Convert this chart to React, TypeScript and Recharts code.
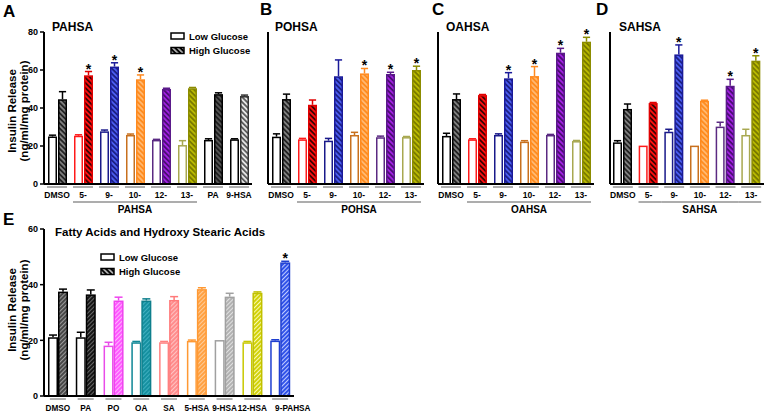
import React from 'react';
import { BarChart, Bar, XAxis, YAxis } from 'recharts';

const FONT = '"Liberation Sans", Arial, Helvetica, sans-serif';

// A - PAHSA
const catsA = ['DMSO', '5-', '9-', '10-', '12-', '13-', 'PA', '9-HSA'];
const lowA = [25, 25.4, 27.7, 25.8, 23.2, 20.5, 23.2, 23.5];
const lowErrA = [0.7, 0.5, 0.7, 0.5, 0.3, 2.3, 0.6, 0.3];
const highA = [44.6, 57.2, 61.8, 55.1, 50, 50.4, 47.3, 46.3];
const highErrA = [4, 2, 2, 2.3, 0.4, 0.4, 0.7, 0.5];
const starA = ['5-', '9-', '10-'];

// B - POHSA
const catsB = ['DMSO', '5-', '9-', '10-', '12-', '13-'];
const lowB = [24.9, 23.5, 22.8, 25.8, 24.6, 24.7];
const lowErrB = [1.5, 0.5, 1.2, 1.4, 0.6, 0.3];
const highB = [44.7, 41.7, 56.7, 58.2, 57.9, 60];
const highErrB = [2.6, 2.5, 8.6, 2.6, 0.9, 2];
const starB = ['10-', '12-', '13-'];

// C - OAHSA
const catsC = ['DMSO', '5-', '9-', '10-', '12-', '13-'];
const lowC = [25.3, 23.5, 25.8, 22.3, 25.8, 22.6];
const lowErrC = [1.4, 0.3, 0.6, 0.5, 0.3, 0.3];
const highC = [44.7, 46.8, 55.6, 56.8, 69.1, 74.9];
const highErrC = [2.7, 0.3, 3, 5, 2.3, 2.3];
const starC = ['9-', '10-', '12-', '13-'];

// D - SAHSA
const catsD = ['DMSO', '5-', '9-', '10-', '12-', '13-'];
const lowD = [21.9, 20.2, 27.5, 20.2, 30.2, 25.8];
const lowErrD = [0.9, 0, 1.3, 0, 2.3, 3];
const highD = [39.5, 42.6, 68.2, 43.8, 51.7, 64.9];
const highErrD = [2.6, 0.3, 5, 0.3, 3.4, 2.6];
const starD = ['9-', '12-', '13-'];

// E - fatty acids and hydroxy stearic acids
const catsE = ['DMSO', 'PA', 'PO', 'OA', 'SA', '5-HSA', '9-HSA', '12-HSA', '9-PAHSA'];
const lowE = [21.1, 21.1, 18.1, 19.3, 19.3, 19.8, 20.1, 19.3, 19.9];
const lowErrE = [0.8, 1.8, 1.2, 0.3, 0.3, 0.3, 0, 0.3, 0.3];
const highE = [37.5, 36.5, 34.3, 34.3, 34.5, 38.4, 35.7, 37.1, 48];
const highErrE = [0.9, 1.6, 1.2, 0.6, 1.2, 0.5, 1.2, 0.3, 0.4];
const starE = ['9-PAHSA'];

const ticks80 = [0, 20, 40, 60, 80];
const ticks60 = [0, 20, 40, 60];
const hsaGroup = ['5-', '9-', '10-', '12-', '13-'];

type Col = { line: string; hiLine: string; fill: string; stripe: string };

const colsAD: Col[] = [
  { line: '#000000', hiLine: '#000000', fill: '#7f7f7f', stripe: '#111111' },
  { line: '#ff1a1a', hiLine: '#e00000', fill: '#ff1010', stripe: '#1a0000' },
  { line: '#1a1a8a', hiLine: '#1a1a99', fill: '#4a5cf0', stripe: '#14146e' },
  { line: '#c8701e', hiLine: '#ff8a1f', fill: '#ff8c1f', stripe: '#ffc080' },
  { line: '#5a2a82', hiLine: '#5a1a8a', fill: '#a020e0', stripe: '#3a0a5e' },
  { line: '#a8a850', hiLine: '#8c8c00', fill: '#b8b800', stripe: '#6e6e00' },
];
const colsA: Col[] = [
  ...colsAD,
  { line: '#000000', hiLine: '#000000', fill: '#555555', stripe: '#111111' },
  { line: '#000000', hiLine: '#333333', fill: '#e4e4e4', stripe: '#444444' },
];
const colsE: Col[] = [
  { line: '#000000', hiLine: '#000000', fill: '#444444', stripe: '#999999' },
  { line: '#000000', hiLine: '#000000', fill: '#111111', stripe: '#666666' },
  { line: '#e94de9', hiLine: '#ee44ee', fill: '#ff55ff', stripe: '#ffb0ff' },
  { line: '#0e8796', hiLine: '#0e7f8c', fill: '#128f9f', stripe: '#40b0c0' },
  { line: '#ff8080', hiLine: '#ff7a7a', fill: '#ff8a8a', stripe: '#ffc4c4' },
  { line: '#ff9933', hiLine: '#ff9933', fill: '#ffa040', stripe: '#ffcc99' },
  { line: '#a0a0a0', hiLine: '#a0a0a0', fill: '#b0b0b0', stripe: '#e0e0e0' },
  { line: '#c8c800', hiLine: '#c0c000', fill: '#d0d000', stripe: '#f8f8b0' },
  { line: '#1f3fd0', hiLine: '#1f3fd0', fill: '#2a4de8', stripe: '#c0ccff' },
];

const makeRows = (cats: string[], low: number[], lowErr: number[], high: number[], highErr: number[], stars: string[]) =>
  cats.map((cat, i) => ({ cat, i, low: low[i], lowErr: lowErr[i], high: high[i], highErr: highErr[i], star: stars.includes(cat) }));

function barShape(kind: 'low' | 'high', colors: Col[], patId: string) {
  return (props: any) => {
    const { x, y, width, height, payload } = props;
    if (!payload || height == null) return <g />;
    const c = colors[payload.i];
    const val = kind === 'low' ? payload.low : payload.high;
    const err = kind === 'low' ? payload.lowErr : payload.highErr;
    const ePx = val > 0 ? (err * height) / val : 0;
    const cx = x + width / 2;
    const stroke = kind === 'low' ? c.line : c.hiLine;
    const fill = kind === 'low' ? '#ffffff' : `url(#${patId}${payload.i})`;
    const top = y - ePx;
    return (
      <g>
        {err > 0 && <line x1={cx} x2={cx} y1={y} y2={top} stroke={stroke} strokeWidth={1.5} />}
        {err > 0 && (
          <line x1={cx - width * 0.4} x2={cx + width * 0.4} y1={top} y2={top} stroke={stroke} strokeWidth={1.5} />
        )}
        <rect x={x + 0.75} y={y + 0.75} width={width - 1.5} height={Math.max(height - 0.75, 0)} fill={fill} stroke={stroke} strokeWidth={1.5} />
        {kind === 'high' && payload.star && (
          <text x={cx} y={top + 2} textAnchor="middle" fontSize={14} fontWeight="bold" fontFamily={FONT} fill="#000">
            *
          </text>
        )}
      </g>
    );
  };
}

type TickCfg = {
  under: number;
  labelDy: number;
  font: number;
  band: number;
  group?: string[];
  groupName?: string;
  lastLabel?: string;
};

const makeTick = (cfg: TickCfg) => (p: any) => {
  const { x, y, payload } = p;
  const v = payload.value;
  const gi = cfg.group ? cfg.group.indexOf(v) : -1;
  const n = cfg.group ? cfg.group.length : 0;
  // the last label in panel E sits a little to the right, like the original
  const isLast = cfg.lastLabel === v;
  return (
    <g>
      <line x1={x - cfg.under} x2={x + cfg.under} y1={y + 3} y2={y + 3} stroke="#9a9a9a" strokeWidth={1.6} />
      <text
        x={isLast ? x - 5 : x}
        y={y + cfg.labelDy}
        textAnchor={isLast ? 'start' : 'middle'}
        fontSize={cfg.font}
        fontWeight="bold"
        fontFamily={FONT}
        fill="#000"
      >
        {v}
      </text>
      {gi >= 0 && (
        <line
          x1={x - (gi === 0 ? cfg.under : cfg.band / 2)}
          x2={x + (gi === n - 1 ? cfg.under : cfg.band / 2)}
          y1={y + 18}
          y2={y + 18}
          stroke="#808080"
          strokeWidth={1.3}
        />
      )}
      {gi === 2 && (
        <text x={x} y={y + 29} textAnchor="middle" fontSize={10} fontWeight="bold" fontFamily={FONT} fill="#000">
          {cfg.groupName}
        </text>
      )}
    </g>
  );
};

type PanelProps = {
  rows: any[];
  colors: Col[];
  patId: string;
  left: number;
  top: number;
  width: number;
  height: number;
  marginTop: number;
  yWidth: number;
  xHeight: number;
  yMax: number;
  yTicks: number[];
  yLabels: boolean;
  barSize: number;
  barGap: number;
  tick: TickCfg;
};

function Panel(p: PanelProps) {
  return (
    <div style={{ position: 'absolute', left: p.left, top: p.top }}>
      <BarChart
        width={p.width}
        height={p.height}
        data={p.rows}
        margin={{ top: p.marginTop, right: 0, bottom: 0, left: 0 }}
        barGap={p.barGap}
      >
        <XAxis
          dataKey="cat"
          interval={0}
          height={p.xHeight}
          tickLine={false}
          tickSize={0}
          tickMargin={0}
          axisLine={{ stroke: '#000', strokeWidth: 2 }}
          tick={makeTick(p.tick)}
        />
        <YAxis
          width={p.yWidth}
          domain={[0, p.yMax]}
          ticks={p.yTicks}
          interval={0}
          tickSize={4}
          tickMargin={2}
          axisLine={{ stroke: '#000', strokeWidth: 2 }}
          tickLine={{ stroke: '#000', strokeWidth: 1.5 }}
          tick={p.yLabels ? { fontSize: 9, fontWeight: 'bold', fill: '#000', fontFamily: FONT } : false}
        />
        <Bar dataKey="low" barSize={p.barSize} isAnimationActive={false} shape={barShape('low', p.colors, p.patId)} />
        <Bar dataKey="high" barSize={p.barSize} isAnimationActive={false} shape={barShape('high', p.colors, p.patId)} />
      </BarChart>
    </div>
  );
}

function Patterns({ id, colors, angle, size, sw }: { id: string; colors: Col[]; angle: number; size: number; sw: number }) {
  return (
    <>
      {colors.map((c, i) => (
        <pattern
          key={id + i}
          id={`${id}${i}`}
          width={size}
          height={size}
          patternUnits="userSpaceOnUse"
          patternTransform={`rotate(${angle})`}
        >
          <rect width={size} height={size} fill={c.fill} />
          <line x1={size / 2} x2={size / 2} y1={0} y2={size} stroke={c.stripe} strokeWidth={sw} />
        </pattern>
      ))}
    </>
  );
}

const tickAD = (groupName: string, band: number): TickCfg => ({
  under: 10,
  labelDy: 14,
  font: 8.5,
  band,
  group: hsaGroup,
  groupName,
});

const legendCols: Col[] = [{ line: '#000', hiLine: '#000', fill: '#000000', stripe: '#ffffff' }];

function YLabel({ cy }: { cy: number }) {
  return (
    <g fontFamily={FONT} fontWeight="bold" fontSize={11.5} fill="#000" textAnchor="middle">
      <text transform={`translate(16,${cy}) rotate(-90)`}>Insulin Release</text>
      <text transform={`translate(27.5,${cy}) rotate(-90)`}>(ng/ml/mg protein)</text>
    </g>
  );
}

function Legend({ x, y }: { x: number; y: number }) {
  return (
    <g fontFamily={FONT} fontWeight="bold" fontSize={9.5} fill="#000">
      <rect x={x} y={y} width={13} height={6} fill="#fff" stroke="#000" strokeWidth={1.5} />
      <text x={x + 18} y={y + 6.5}>Low Glucose</text>
      <rect x={x} y={y + 14.5} width={13} height={6} fill="url(#leg0)" stroke="#000" strokeWidth={1.5} />
      <text x={x + 18} y={y + 21}>High Glucose</text>
    </g>
  );
}

export default function App() {
  const rowsA = makeRows(catsA, lowA, lowErrA, highA, highErrA, starA);
  const rowsB = makeRows(catsB, lowB, lowErrB, highB, highErrB, starB);
  const rowsC = makeRows(catsC, lowC, lowErrC, highC, highErrC, starC);
  const rowsD = makeRows(catsD, lowD, lowErrD, highD, highErrD, starD);
  const rowsE = makeRows(catsE, lowE, lowErrE, highE, highErrE, starE);

  const common = { height: 220, top: 0, marginTop: 32, xHeight: 36, yMax: 80, yTicks: ticks80, barSize: 9, barGap: 1 };

  return (
    <div style={{ position: 'absolute', left: 0, top: 0, width: 765, height: 412, background: '#fff', overflow: 'hidden' }}>
      <style>{'.recharts-surface{overflow:visible}'}</style>
      <svg width={765} height={412} style={{ position: 'absolute', left: 0, top: 0, pointerEvents: 'none', zIndex: 2 }}>
        <defs>
          <Patterns id="pa" colors={colsA} angle={-45} size={3.6} sw={1.5} />
          <Patterns id="pb" colors={colsAD} angle={-45} size={3.6} sw={1.5} />
          <Patterns id="pc" colors={colsAD} angle={-45} size={3.6} sw={1.5} />
          <Patterns id="pd" colors={colsAD} angle={-45} size={3.6} sw={1.5} />
          <Patterns id="pe" colors={colsE} angle={45} size={3} sw={1.1} />
          <Patterns id="leg" colors={legendCols} angle={-45} size={3.6} sw={1.2} />
        </defs>
        <g fontFamily={FONT} fontWeight="bold" fill="#000">
          <text x={3} y={17} fontSize={17}>A</text>
          <text x={52} y={31} fontSize={12}>PAHSA</text>
          <text x={260} y={15} fontSize={17}>B</text>
          <text x={275} y={31} fontSize={12}>POHSA</text>
          <text x={432} y={15} fontSize={17}>C</text>
          <text x={446} y={31} fontSize={12}>OAHSA</text>
          <text x={596} y={15} fontSize={17}>D</text>
          <text x={619} y={31} fontSize={12}>SAHSA</text>
          <text x={3} y={225} fontSize={17}>E</text>
          <text x={55} y={236} fontSize={11.5}>Fatty Acids and Hydroxy Stearic Acids</text>
        </g>
        <YLabel cy={111} />
        <YLabel cy={310} />
        <Legend x={171} y={33} />
        <Legend x={101} y={254} />
      </svg>

      <Panel {...common} rows={rowsA} colors={colsA} patId="pa" left={0} width={252} yWidth={44} yLabels tick={tickAD('PAHSA', 26)} />
      <Panel {...common} rows={rowsB} colors={colsAD} patId="pb" left={254} width={170} yWidth={14} yLabels={false} tick={tickAD('POHSA', 26)} />
      <Panel {...common} rows={rowsC} colors={colsAD} patId="pc" left={424} width={170} yWidth={14} yLabels={false} tick={tickAD('OAHSA', 26)} />
      <Panel {...common} rows={rowsD} colors={colsAD} patId="pd" left={596} width={168} yWidth={14} yLabels={false} tick={tickAD('SAHSA', 25.7)} />
      <Panel
        rows={rowsE}
        colors={colsE}
        patId="pe"
        left={0}
        top={212}
        width={294}
        height={200}
        marginTop={17}
        yWidth={44}
        xHeight={16}
        yMax={60}
        yTicks={ticks60}
        yLabels
        barSize={10}
        barGap={0}
        tick={{ under: 8, labelDy: 15, font: 8.2, band: 27.8, lastLabel: '9-PAHSA' }}
      />
    </div>
  );
}
